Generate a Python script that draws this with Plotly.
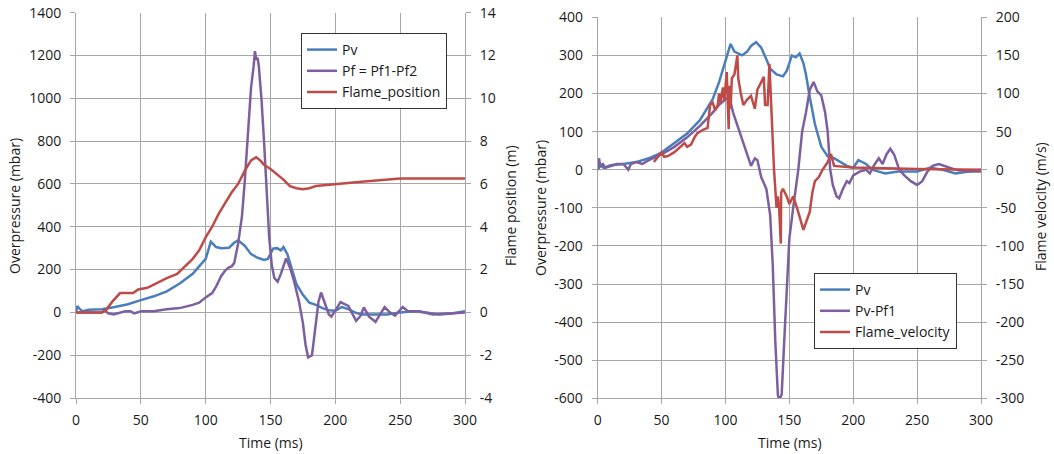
import plotly.graph_objects as go

# ---------------- Left chart data ----------------
pv_left_t = [0, 1, 3, 5, 10, 20, 30, 40, 50, 60, 70, 80, 90, 100, 104, 108, 112, 118, 122, 125, 130,
             135, 140, 145, 148, 152, 155, 158, 160, 163, 166, 170, 175, 180, 185, 190, 195, 200, 205,
             210, 215, 220, 230, 240, 250, 260, 270, 280, 290, 300]
pv_left = [0, 30, 15, 5, 12, 15, 25, 38, 57, 75, 98, 135, 180, 250, 330, 305, 300, 302, 325, 337, 312,
           272, 255, 245, 250, 298, 300, 290, 305, 272, 212, 132, 82, 45, 35, 20, 10, 8, 25,
           15, 0, -10, -10, -10, 0, 5, 0, -10, -5, 5]

pf_left_t = [0, 20, 22, 25, 29, 32, 38, 42, 45, 50, 60, 70, 80, 90, 95, 100, 105, 108, 112, 115, 118,
             120, 122, 125, 128, 130, 133, 135, 137, 138, 139, 140, 141, 143, 145, 147, 149, 151, 153,
             155.5, 158, 162, 165, 168, 172, 175, 177, 179, 182, 184, 187, 189, 192, 195, 197, 200, 204,
             210, 213, 216, 219, 222, 226, 231, 235, 238, 242, 246, 249, 252, 256, 265, 275, 285, 295, 300]
pf_left = [0, 0, 10, -5, -10, -5, 5, 5, -5, 5, 5, 15, 20, 35, 45, 70, 90, 120, 170, 195, 210,
           215, 230, 320, 450, 600, 900, 1050, 1150, 1220, 1180, 1190, 1150, 1000, 800, 550, 350, 220, 160,
           143, 180, 252, 210, 150, 50, -50, -150, -210, -200, -100, 50, 93, 40, -10, -20, 10, 48,
           30, -5, -40, -20, 23, -20, -44, -5, 25, 0, -15, 5, 25, 5, 5, -10, -5, 0, 0]

fp_t = [0, 20, 23, 28, 34, 40, 44, 48, 55, 60, 65, 70, 78, 85, 90, 95, 100, 105, 110, 115, 120, 125,
        130, 135, 139, 142, 145, 150, 155, 160, 165, 170, 175, 180, 185, 200, 220, 250, 300]
flame_position = [0, 0, 0.1, 0.5, 0.9, 0.9, 0.9, 1.07, 1.15, 1.3, 1.45, 1.6, 1.8, 2.2, 2.5, 2.9, 3.5, 4.0,
                  4.6, 5.1, 5.6, 6.0, 6.6, 7.1, 7.25, 7.1, 6.9, 6.7, 6.45, 6.2, 5.9, 5.8, 5.75, 5.8, 5.9,
                  6.0, 6.1, 6.25, 6.25]

# ---------------- Right chart data ----------------
pv_right_t = [0, 2, 5, 10, 20, 30, 40, 50, 60, 70, 80, 90, 95, 100, 104, 107, 110, 113, 117, 120, 124,
              128, 132, 135, 140, 145, 148, 152, 155, 158, 161, 163, 166, 170, 175, 180, 185, 190, 195,
              200, 204, 210, 215, 220, 225, 235, 245, 250, 260, 270, 280, 290, 300]
pv_right = [0, 10, 5, 12, 15, 20, 30, 45, 70, 95, 130, 185, 230, 285, 330, 310, 305, 300, 310, 325, 335,
            320, 290, 265, 250, 245, 260, 300, 295, 305, 280, 250, 190, 120, 60, 35, 30, 20, 10,
            5, 25, 15, 0, -5, -10, -5, -5, -5, 5, 0, -10, -5, 0]

pvpf_t = [0, 1, 2, 4, 6, 10, 15, 20, 24, 26, 30, 35, 40, 50, 60, 70, 80, 90, 95, 100, 103, 106, 110,
          115, 118, 120, 123, 125, 128, 132, 135, 137, 139, 141, 142, 144, 146, 148, 150, 153, 157,
          160, 163, 166, 169, 172, 175, 178, 180, 182, 184, 187, 189, 192, 195, 197, 200, 205, 210,
          213, 216, 220, 223, 226, 229, 232, 236, 240, 245, 250, 254, 258, 262, 267, 272, 280, 290, 300]
pv_pf1 = [0, 30, 10, 15, 5, 10, 15, 15, 0, 15, 20, 15, 25, 40, 60, 85, 115, 150, 170, 185, 190, 150, 110,
          60, 25, 10, 30, 25, -20, -50, -120, -250, -450, -590, -605, -590, -450, -300, -180, -100, 0,
          100, 150, 210, 230, 205, 195, 150, 100, 0, -40, -70, -75, -50, -30, -35, -15, -5, 0,
          -10, 10, 30, 15, 40, 55, 40, 0, -15, -30, -40, -30, -5, 10, 15, 10, 0, -5, -5]

fv_t = [44, 50, 52, 55, 60, 65, 68, 70, 73, 76, 78, 82, 86, 88, 90, 92, 94, 95, 96, 98, 99, 101, 102.5,
        103, 104, 105, 107, 109.3, 110, 112, 114, 117, 120, 123, 125, 128, 130, 131, 133, 134.4, 136,
        138, 140, 141, 142, 143.3, 143.6, 145, 148, 150, 153, 156, 161, 163, 166, 168, 170, 173, 176,
        180, 182.6, 185, 200, 250, 300]
flame_velocity = [10, 23, 17, 18, 23, 30, 35, 30, 33, 43, 48, 52, 55, 85, 88, 78, 85, 100, 88, 108, 90,
                  128, 53, 110, 80, 120, 125, 150, 120, 100, 85, 92, 97, 80, 105, 115, 122, 85, 85, 139,
                  70, 0, -50, -35, -50, -97, -30, -25, -35, -45, -35, -50, -79, -70, -55, -30, -15, -10,
                  0, 10, 20.5, 5, 3, 1, 0]

# tick values (labels written with ASCII hyphen as in the reference)
x_ticks = [0, 50, 100, 150, 200, 250, 300]
left_y_ticks = [-400, -200, 0, 200, 400, 600, 800, 1000, 1200, 1400]
left_y2_ticks = [-4, -2, 0, 2, 4, 6, 8, 10, 12, 14]
right_y_ticks = [-600, -500, -400, -300, -200, -100, 0, 100, 200, 300, 400]
right_y2_ticks = [-300, -250, -200, -150, -100, -50, 0, 50, 100, 150, 200]

BLUE = "#4A7EBB"
PURPLE = "#7D5FA0"
RED = "#BE4B48"
GRID = "#A6A6A6"
TXT = "#1a1a1a"
FONT = "Open Sans"
LW = 2.5

W, H = 1054, 454
fig = go.Figure()

fig.add_trace(go.Scatter(x=pv_left_t, y=pv_left, name="Pv", mode="lines",
                         line=dict(color=BLUE, width=LW), xaxis="x", yaxis="y", legend="legend"))
fig.add_trace(go.Scatter(x=pf_left_t, y=pf_left, name="Pf = Pf1-Pf2", mode="lines",
                         line=dict(color=PURPLE, width=LW), xaxis="x", yaxis="y", legend="legend"))
fig.add_trace(go.Scatter(x=fp_t, y=flame_position, name="Flame_position", mode="lines",
                         line=dict(color=RED, width=LW), xaxis="x", yaxis="y2", legend="legend"))

fig.add_trace(go.Scatter(x=pv_right_t, y=pv_right, name="Pv", mode="lines",
                         line=dict(color=BLUE, width=LW), xaxis="x2", yaxis="y3", legend="legend2"))
fig.add_trace(go.Scatter(x=pvpf_t, y=pv_pf1, name="Pv-Pf1", mode="lines",
                         line=dict(color=PURPLE, width=LW), xaxis="x2", yaxis="y3", legend="legend2"))
fig.add_trace(go.Scatter(x=fv_t, y=flame_velocity, name="Flame_velocity", mode="lines",
                         line=dict(color=RED, width=LW), xaxis="x2", yaxis="y4", legend="legend2"))

def px_x(p):
    return p / W

def px_y(p):
    return 1 - p / H

def labels(vals):
    return [str(v) for v in vals]

tickfont = dict(family=FONT, size=14, color=TXT)
common_x = dict(range=[0, 300], tickmode="array", tickvals=x_ticks, ticktext=labels(x_ticks),
                showgrid=True, gridcolor=GRID, gridwidth=1,
                showline=True, linecolor=GRID, ticks="outside", ticklen=5, tickcolor=GRID,
                zeroline=False, tickfont=tickfont, automargin=False, ticklabelstandoff=4)
common_y = dict(showgrid=True, gridcolor=GRID, gridwidth=1, showline=True, linecolor=GRID,
                ticks="outside", ticklen=5, tickcolor=GRID, zeroline=False, tickfont=tickfont,
                automargin=False, tickmode="array", ticklabelstandoff=6)
sec_y = dict(showgrid=False, showline=True, linecolor=GRID, ticks="outside", ticklen=5,
             tickcolor=GRID, zeroline=False, tickfont=tickfont, side="right", automargin=False,
             tickmode="array", ticklabelstandoff=6)

fig.update_layout(
    template="none",
    width=W, height=H,
    margin=dict(l=0, r=0, t=0, b=0, autoexpand=False),
    paper_bgcolor="white", plot_bgcolor="white",
    font=dict(family=FONT, size=14, color=TXT),
    xaxis=dict(domain=[px_x(76), px_x(465)], anchor="y", **common_x),
    yaxis=dict(domain=[px_y(398), px_y(12.7)], range=[-400, 1400], anchor="x",
               tickvals=left_y_ticks, ticktext=labels(left_y_ticks), **common_y),
    yaxis2=dict(range=[-4, 14], overlaying="y", anchor="x",
                tickvals=left_y2_ticks, ticktext=labels(left_y2_ticks), **sec_y),
    xaxis2=dict(domain=[px_x(597.7), px_x(981)], anchor="y3", **common_x),
    yaxis3=dict(domain=[px_y(398.3), px_y(17.3)], range=[-600, 400], anchor="x2",
                tickvals=right_y_ticks, ticktext=labels(right_y_ticks), **common_y),
    yaxis4=dict(range=[-300, 200], overlaying="y3", anchor="x2",
                tickvals=right_y2_ticks, ticktext=labels(right_y2_ticks), **sec_y),
    legend=dict(x=px_x(301), y=px_y(33), xanchor="left", yanchor="top", bgcolor="white",
                bordercolor="#333333", borderwidth=1, font=dict(family=FONT, size=14, color=TXT),
                itemwidth=30, tracegroupgap=0),
    legend2=dict(x=px_x(814), y=px_y(273), xanchor="left", yanchor="top", bgcolor="white",
                 bordercolor="#333333", borderwidth=1, font=dict(family=FONT, size=14, color=TXT),
                 itemwidth=30, tracegroupgap=0),
    showlegend=True,
)

ann_font = dict(family=FONT, size=14, color=TXT)
titles = [
    ("Overpressure (mbar)", 14, 206, -90),
    ("Flame position (m)", 510, 206, -90),
    ("Time (ms)", 271, 442, 0),
    ("Overpressure (mbar)", 540, 208, -90),
    ("Flame velocity (m/s)", 1040, 207, -90),
    ("Time (ms)", 790, 442, 0),
]
for text, xp, yp, ang in titles:
    fig.add_annotation(text=text, x=px_x(xp), y=px_y(yp), xref="paper", yref="paper",
                       showarrow=False, textangle=ang, font=ann_font,
                       xanchor="center", yanchor="middle")

fig.write_html("out.html", config={"displayModeBar": False},
               post_script="document.body.style.margin='0px';document.body.style.overflow='hidden';")
